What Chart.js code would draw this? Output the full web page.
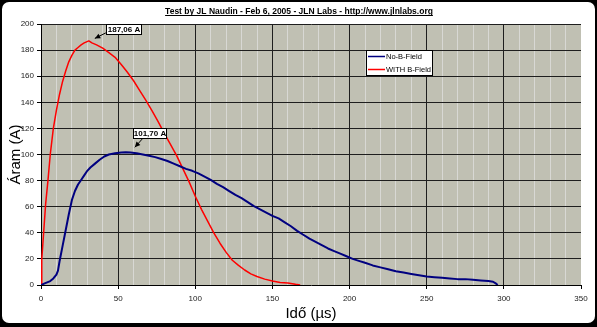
<!DOCTYPE html>
<html lang="hu">
<head>
    <meta charset="UTF-8">
    <meta name="viewport" content="width=device-width, initial-scale=1.0">
    <title>Áram - Idő</title>
    <script src="https://cdn.jsdelivr.net/npm/chart.js"></script>
    <style>
        html, body { margin: 0; padding: 0; background: #000; overflow: hidden; }
        #panel {
            position: absolute; left: 2px; top: 2px;
            width: 593px; height: 321px;
            background: #fff; border-radius: 7px;
        }
        #chart { position: absolute; left: 0; top: 0; }
    </style>
</head>
<body>
    <div id="panel"></div>
    <canvas id="chart" width="597" height="327"></canvas>

    <script>
        // measured current, WITH B-Field (time in µs, current in A)
        const withFieldTime = [0, 0.5, 1, 2, 3, 4.5, 6, 8, 10, 12, 14, 16, 18, 20, 22, 24, 26, 28, 31, 33, 36, 40, 44, 48,
            52, 56, 60, 64, 68, 72, 76, 80, 84, 88, 92, 96, 100, 104, 108, 112, 116, 120, 124, 128, 132, 136,
            140, 145, 150, 155, 160, 165, 168];
        const withFieldAmp = [0, 20, 28, 45, 62, 80, 100, 120, 134, 146, 156, 164, 171, 176, 180, 182, 184, 185.5, 187.06, 185.5, 184, 181.5, 178, 174.5,
            169, 163, 156.5, 149, 141.5, 133.5, 125, 116, 107.5, 99, 89, 79, 68, 58, 49, 40, 32, 25, 19, 15, 11.5, 8.5,
            6.5, 4.5, 3, 2, 1.5, 0.5, 0];

        // measured current, No-B-Field
        const noFieldTime = [0, 2, 4, 6, 8, 10, 11, 12, 14, 16, 18, 20, 22, 24, 26, 28, 30, 32, 35, 38, 41, 44, 48, 52, 55,
            58, 62, 66, 70, 74, 78, 82, 86, 90, 94, 98, 102, 106, 110, 114, 118, 122, 126, 130, 134, 138, 142,
            146, 150, 154, 158, 162, 166, 170, 174, 178, 182, 186, 190, 194, 198, 202, 206, 210, 215, 220, 225,
            230, 235, 240, 245, 250, 255, 260, 265, 270, 275, 280, 285, 290, 293, 295, 296];
        const noFieldAmp = [0, 1, 2, 3, 5, 8, 11, 18, 30, 42, 54, 65, 72, 77, 80.5, 84, 87.5, 90, 93, 96, 98.5, 100, 101, 101.5, 101.70,
            101.5, 101, 100, 99, 98, 96.5, 95, 93, 91, 89, 87.5, 85.5, 83, 80.5, 77.5, 75, 72, 69, 66.5, 63.5, 60.5, 58,
            55.5, 53, 51, 48, 45, 41.5, 38.5, 35.5, 33, 30.5, 28, 26, 24, 22, 20, 18.5, 17, 15, 13.5, 12,
            10.5, 9.5, 8.5, 7.5, 6.5, 6, 5.5, 5, 4.5, 4.5, 4, 3.5, 3, 2.5, 1, 0];

        const seriesNames = ['No-B-Field', 'WITH B-Field'];
        const seriesColors = ['#000080', '#ff0000'];

        const chartTitle = 'Test by JL Naudin - Feb 6, 2005 - JLN Labs - http://www.jlnlabs.org';
        const xTitle = 'Idő (µs)';
        const yTitle = 'Áram (A)';

        // peak labels: [dataset, point index]
        const peakLabels = [
            { dataset: 1, index: withFieldAmp.indexOf(187.06), text: '187,06 A', dx: 17, dy: -17, w: 35, h: 10, tipX: 6, tipY: -2.5, tailX: 17, tailY: -8 },
            { dataset: 0, index: noFieldAmp.indexOf(101.70), text: '101,70 A', dx: 7, dy: -24, w: 33, h: 10, tipX: 9, tipY: -5, tailX: 17, tailY: -14 }
        ];

        function toPoints(xs, ys) {
            return xs.map((x, i) => ({ x: x, y: ys[i] }));
        }

        Chart.defaults.font.family = 'Arial, "Liberation Sans", sans-serif';
        Chart.defaults.color = '#222';

        // grey plot area
        const plotBackground = {
            id: 'plotBackground',
            beforeDraw(chart) {
                const { ctx, chartArea: a } = chart;
                ctx.save();
                ctx.fillStyle = '#c0c0b3';
                ctx.fillRect(a.left, a.top, a.right - a.left, a.bottom - a.top);
                ctx.restore();
            }
        };

        // underlined title, legend box and the peak callouts
        const decorations = {
            id: 'decorations',
            afterDraw(chart) {
                const ctx = chart.ctx;
                ctx.save();

                // title
                ctx.font = 'bold 8.5px Arial, "Liberation Sans", sans-serif';
                ctx.fillStyle = '#000';
                ctx.textAlign = 'center';
                ctx.textBaseline = 'alphabetic';
                const tw = ctx.measureText(chartTitle).width;
                ctx.fillText(chartTitle, 299, 14);
                ctx.fillRect(299 - tw / 2, 15, tw, 1);

                // legend
                ctx.fillStyle = '#fff';
                ctx.fillRect(366, 50, 66, 25);
                ctx.strokeStyle = '#000';
                ctx.lineWidth = 1;
                ctx.strokeRect(366.5, 50.5, 66, 25);
                ctx.font = '7.5px Arial, "Liberation Sans", sans-serif';
                ctx.textAlign = 'left';
                ctx.textBaseline = 'middle';
                seriesNames.forEach((name, i) => {
                    const y = 56.5 + i * 13;
                    ctx.save();
                    ctx.strokeStyle = seriesColors[i];
                    ctx.lineWidth = 1.5;
                    ctx.beginPath();
                    ctx.moveTo(368, y);
                    ctx.lineTo(385, y);
                    ctx.stroke();
                    ctx.restore();
                    ctx.fillStyle = '#000';
                    ctx.fillText(name, 386, y + 0.5);
                });

                // peak callouts
                peakLabels.forEach(p => {
                    const pt = chart.getDatasetMeta(p.dataset).data[p.index];
                    const bx = Math.round(pt.x + p.dx) + 0.5;
                    const by = Math.round(pt.y + p.dy) + 0.5;
                    const tipX = pt.x + p.tipX, tipY = pt.y + p.tipY;
                    const tailX = pt.x + p.tailX, tailY = pt.y + p.tailY;

                    ctx.strokeStyle = '#000';
                    ctx.lineWidth = 1;
                    ctx.beginPath();
                    ctx.moveTo(tailX, tailY);
                    ctx.lineTo(tipX, tipY);
                    ctx.stroke();
                    const ang = Math.atan2(tipY - tailY, tipX - tailX);
                    ctx.fillStyle = '#000';
                    ctx.beginPath();
                    ctx.moveTo(tipX, tipY);
                    ctx.lineTo(tipX - 6 * Math.cos(ang - 0.45), tipY - 6 * Math.sin(ang - 0.45));
                    ctx.lineTo(tipX - 6 * Math.cos(ang + 0.45), tipY - 6 * Math.sin(ang + 0.45));
                    ctx.closePath();
                    ctx.fill();

                    ctx.fillStyle = '#fff';
                    ctx.fillRect(bx, by, p.w, p.h);
                    ctx.strokeRect(bx, by, p.w, p.h);
                    ctx.fillStyle = '#000';
                    ctx.font = 'bold 8px Arial, "Liberation Sans", sans-serif';
                    ctx.textAlign = 'center';
                    ctx.textBaseline = 'middle';
                    ctx.fillText(p.text, bx + p.w / 2, by + p.h / 2 + 0.5);
                });

                ctx.restore();
            }
        };

        new Chart(document.getElementById('chart'), {
            type: 'line',
            data: {
                datasets: [
                    {
                        label: seriesNames[0],
                        data: toPoints(noFieldTime, noFieldAmp),
                        borderColor: seriesColors[0],
                        borderWidth: 2
                    },
                    {
                        label: seriesNames[1],
                        data: toPoints(withFieldTime, withFieldAmp),
                        borderColor: seriesColors[1],
                        borderWidth: 1.5
                    }
                ]
            },
            options: {
                responsive: false,
                animation: false,
                devicePixelRatio: 1,
                parsing: false,
                elements: {
                    point: { radius: 0 },
                    line: { tension: 0, borderJoinStyle: 'round' }
                },
                layout: { padding: { left: 7, top: 24, right: 16, bottom: 4 } },
                plugins: {
                    legend: { display: false },
                    title: { display: false },
                    tooltip: { enabled: false }
                },
                scales: {
                    x: {
                        type: 'linear',
                        min: 0,
                        max: 350,
                        afterFit: s => { s.height = 38; },
                        border: { color: '#000', width: 1 },
                        grid: {
                            color: c => {
                                const v = c.tick.value;
                                if (v === 0 || v === 350) return 'rgba(0,0,0,0)';
                                return v % 50 === 0 ? '#1e1e1e' : '#d8d8d4';
                            },
                            tickColor: c => c.tick.value % 50 === 0 ? '#000' : 'rgba(0,0,0,0)',
                            tickLength: 4
                        },
                        ticks: {
                            stepSize: 10,
                            autoSkip: false,
                            maxRotation: 0,
                            padding: 5,
                            font: { size: 8 },
                            callback: v => v % 50 === 0 ? v : ''
                        },
                        title: {
                            display: true,
                            text: xTitle,
                            color: '#000',
                            padding: 0,
                            font: { size: 15 }
                        }
                    },
                    y: {
                        min: 0,
                        max: 200,
                        afterFit: s => { s.width = 34; },
                        border: { color: '#000', width: 1 },
                        grid: {
                            color: c => c.tick.value === 0 ? 'rgba(0,0,0,0)' : '#1e1e1e',
                            tickColor: '#000',
                            tickLength: 4
                        },
                        ticks: {
                            stepSize: 20,
                            padding: 3,
                            font: { size: 8 }
                        },
                        title: {
                            display: true,
                            text: yTitle,
                            color: '#000',
                            padding: 0,
                            font: { size: 15 }
                        }
                    }
                }
            },
            plugins: [plotBackground, decorations]
        });
    </script>
</body>
</html>
